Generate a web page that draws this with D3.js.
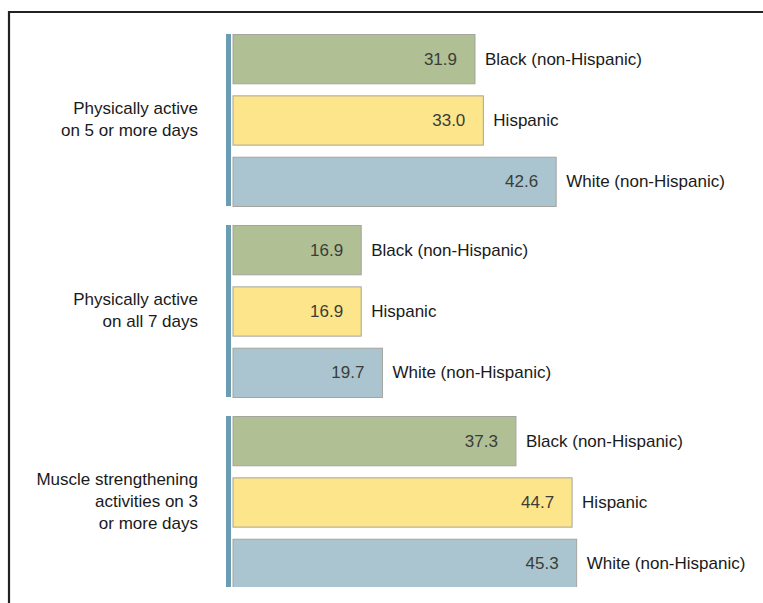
<!DOCTYPE html>
<html>
<head>
<meta charset="utf-8">
<script src="https://cdn.jsdelivr.net/npm/d3@7/dist/d3.min.js"></script>
<style>
  html, body { margin: 0; padding: 0; background: #fff; }
  svg { display: block; }
  text { font-family: "Liberation Sans", Arial, Helvetica, sans-serif; }
</style>
</head>
<body>
<div id="chart"></div>
<script>
// Data
const groups = ["g1", "g2", "g3"];
const groupLabels = [
  ["Physically active", "on 5 or more days"],
  ["Physically active", "on all 7 days"],
  ["Muscle strengthening", "activities on 3", "or more days"]
];
const races = ["Black (non-Hispanic)", "Hispanic", "White (non-Hispanic)"];
const blackValues = [31.9, 16.9, 37.3];
const hispanicValues = [33.0, 16.9, 44.7];
const whiteValues = [42.6, 19.7, 45.3];
const raceColors = ["#b1bf95", "#fde58c", "#aac5cf"];

const series = [blackValues, hispanicValues, whiteValues];

const W = 763, H = 603;
const svg = d3.select("#chart").append("svg").attr("width", W).attr("height", H);

// frame
svg.append("line").attr("x1", 8).attr("x2", W).attr("y1", 12).attr("y2", 12)
  .attr("stroke", "#222").attr("stroke-width", 2.2);
svg.append("line").attr("x1", 9).attr("x2", 9).attr("y1", 11).attr("y2", H)
  .attr("stroke", "#222").attr("stroke-width", 2.2);

const x = d3.scaleLinear().domain([0, 50]).range([233, 233 + 379.3]);
const yGroup = d3.scaleBand().domain(groups).range([34, 588]).paddingInner(19 / 191).paddingOuter(0);
const yRow = d3.scaleBand().domain(d3.range(3)).range([0, yGroup.bandwidth()]).paddingInner(12 / 61).paddingOuter(0);

svg.append("defs").append("clipPath").attr("id", "clip")
  .append("rect").attr("x", 0).attr("y", 0).attr("width", W).attr("height", 587);

const plot = svg.append("g").attr("clip-path", "url(#clip)");

groups.forEach((g, gi) => {
  const gy = yGroup(g);
  const gg = plot.append("g").attr("transform", `translate(0,${gy})`);
  // vertical accent bar
  gg.append("rect").attr("x", 226).attr("y", 0).attr("width", 5).attr("height", yGroup.bandwidth())
    .attr("fill", "#6a9db4");
  races.forEach((r, ri) => {
    const v = series[ri][gi];
    const by = yRow(ri), bh = yRow.bandwidth();
    gg.append("rect")
      .attr("x", x(0)).attr("y", by + 0.5)
      .attr("width", x(v) - x(0)).attr("height", bh)
      .attr("fill", raceColors[ri]).attr("stroke", "#a4a4a0").attr("stroke-width", 1);
    gg.append("text")
      .attr("x", x(v) - 18).attr("y", by + bh / 2 + 6)
      .attr("text-anchor", "end").attr("font-size", 17).attr("fill", "#3a3d38")
      .text(v.toFixed(1));
    gg.append("text")
      .attr("x", x(v) + 10).attr("y", by + bh / 2 + 6)
      .attr("font-size", 17).attr("fill", "#1a1a1a")
      .text(r);
  });
  // group label
  const lines = groupLabels[gi];
  const mid = gy + yGroup.bandwidth() / 2;
  const lh = 22;
  const t = svg.append("text").attr("text-anchor", "end").attr("font-size", 17).attr("fill", "#1a1a1a");
  lines.forEach((l, li) => {
    t.append("tspan").attr("x", 198)
      .attr("y", mid + (li - (lines.length - 1) / 2) * lh + 4.5)
      .text(l);
  });
});
</script>
</body>
</html>
